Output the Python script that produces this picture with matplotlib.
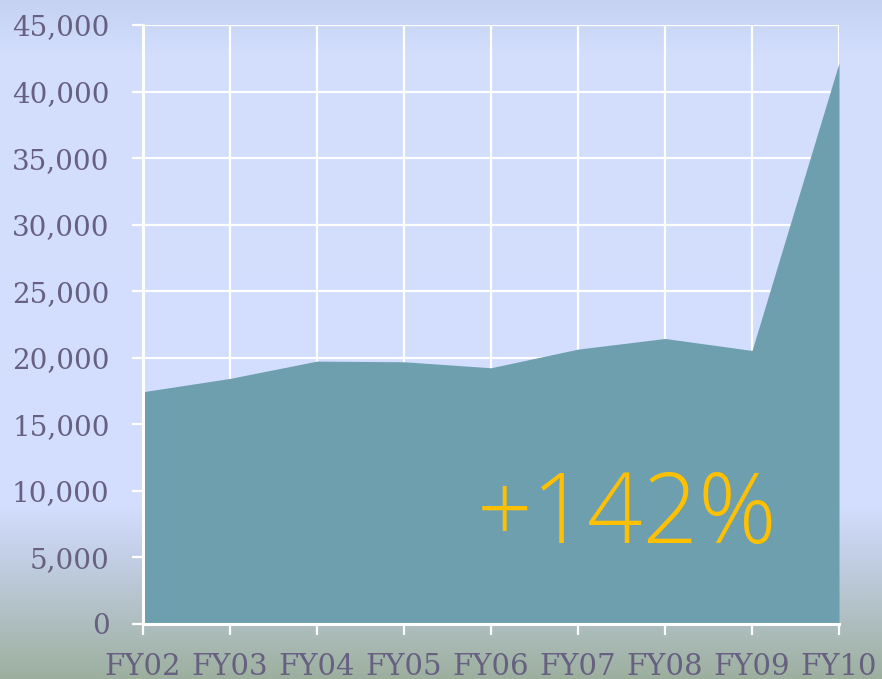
import numpy as np
import matplotlib

matplotlib.use("Agg")
import matplotlib.pyplot as plt
from matplotlib.colors import LinearSegmentedColormap
from matplotlib.ticker import FuncFormatter, MultipleLocator

years = ["FY02", "FY03", "FY04", "FY05", "FY06", "FY07", "FY08", "FY09", "FY10"]
values = [17450, 18450, 19750, 19700, 19250, 20650, 21450, 20550, 42150]
growth_label = "+142%"

AREA = "#6e9fae"
TICK_TEXT = "#676080"
GOLD = "#ffc000"

fig = plt.figure(figsize=(8.82, 6.79), dpi=100)

# background gradient (top -> bottom)
bg = fig.add_axes([0, 0, 1, 1], zorder=0)
grad = LinearSegmentedColormap.from_list(
    "bg",
    [(0.0, "#c5d2f1"), (0.08, "#d3defd"), (0.74, "#d4dfff"),
     (0.82, "#c3cfe6"), (1.0, "#9db09f")],
)
bg.imshow(np.linspace(0, 1, 256).reshape(-1, 1), aspect="auto", cmap=grad,
          extent=[0, 1, 0, 1], origin="upper")
bg.set_axis_off()

ax = fig.add_axes([143 / 882, 1 - 624 / 679, 696 / 882, 599 / 679], zorder=1)
ax.patch.set_alpha(0)

x = np.arange(len(years))
ax.fill_between(x, values, 0, color=AREA, linewidth=0, zorder=2)

ax.set_xlim(0, len(years) - 1)
ax.set_ylim(0, 45000)
ax.yaxis.set_major_locator(MultipleLocator(5000))
ax.yaxis.set_major_formatter(FuncFormatter(lambda v, _: f"{v:,.0f}"))
ax.set_xticks(x)
ax.set_xticklabels(years)

ax.grid(True, color="white", linewidth=1.6, zorder=1)
ax.set_axisbelow(True)
for side in ["top", "right"]:
    ax.spines[side].set_visible(False)
for side in ["left", "bottom"]:
    ax.spines[side].set_color("white")
    ax.spines[side].set_linewidth(2.2)
    ax.spines[side].set_zorder(3)

ax.tick_params(axis="both", colors="white", width=1.6, length=8,
               labelcolor=TICK_TEXT, labelsize=20)
ax.tick_params(axis="x", pad=13, labelsize=21)
ax.tick_params(axis="y", pad=16)
for lab in ax.get_xticklabels() + ax.get_yticklabels():
    lab.set_family("DejaVu Serif")

ax.text(0.695, 0.178, growth_label, transform=ax.transAxes, color=GOLD,
        fontsize=70, family=["Open Sans", "DejaVu Sans"], fontweight=300,
        ha="center", va="center", zorder=4)

fig.savefig("out.png", dpi=100)
